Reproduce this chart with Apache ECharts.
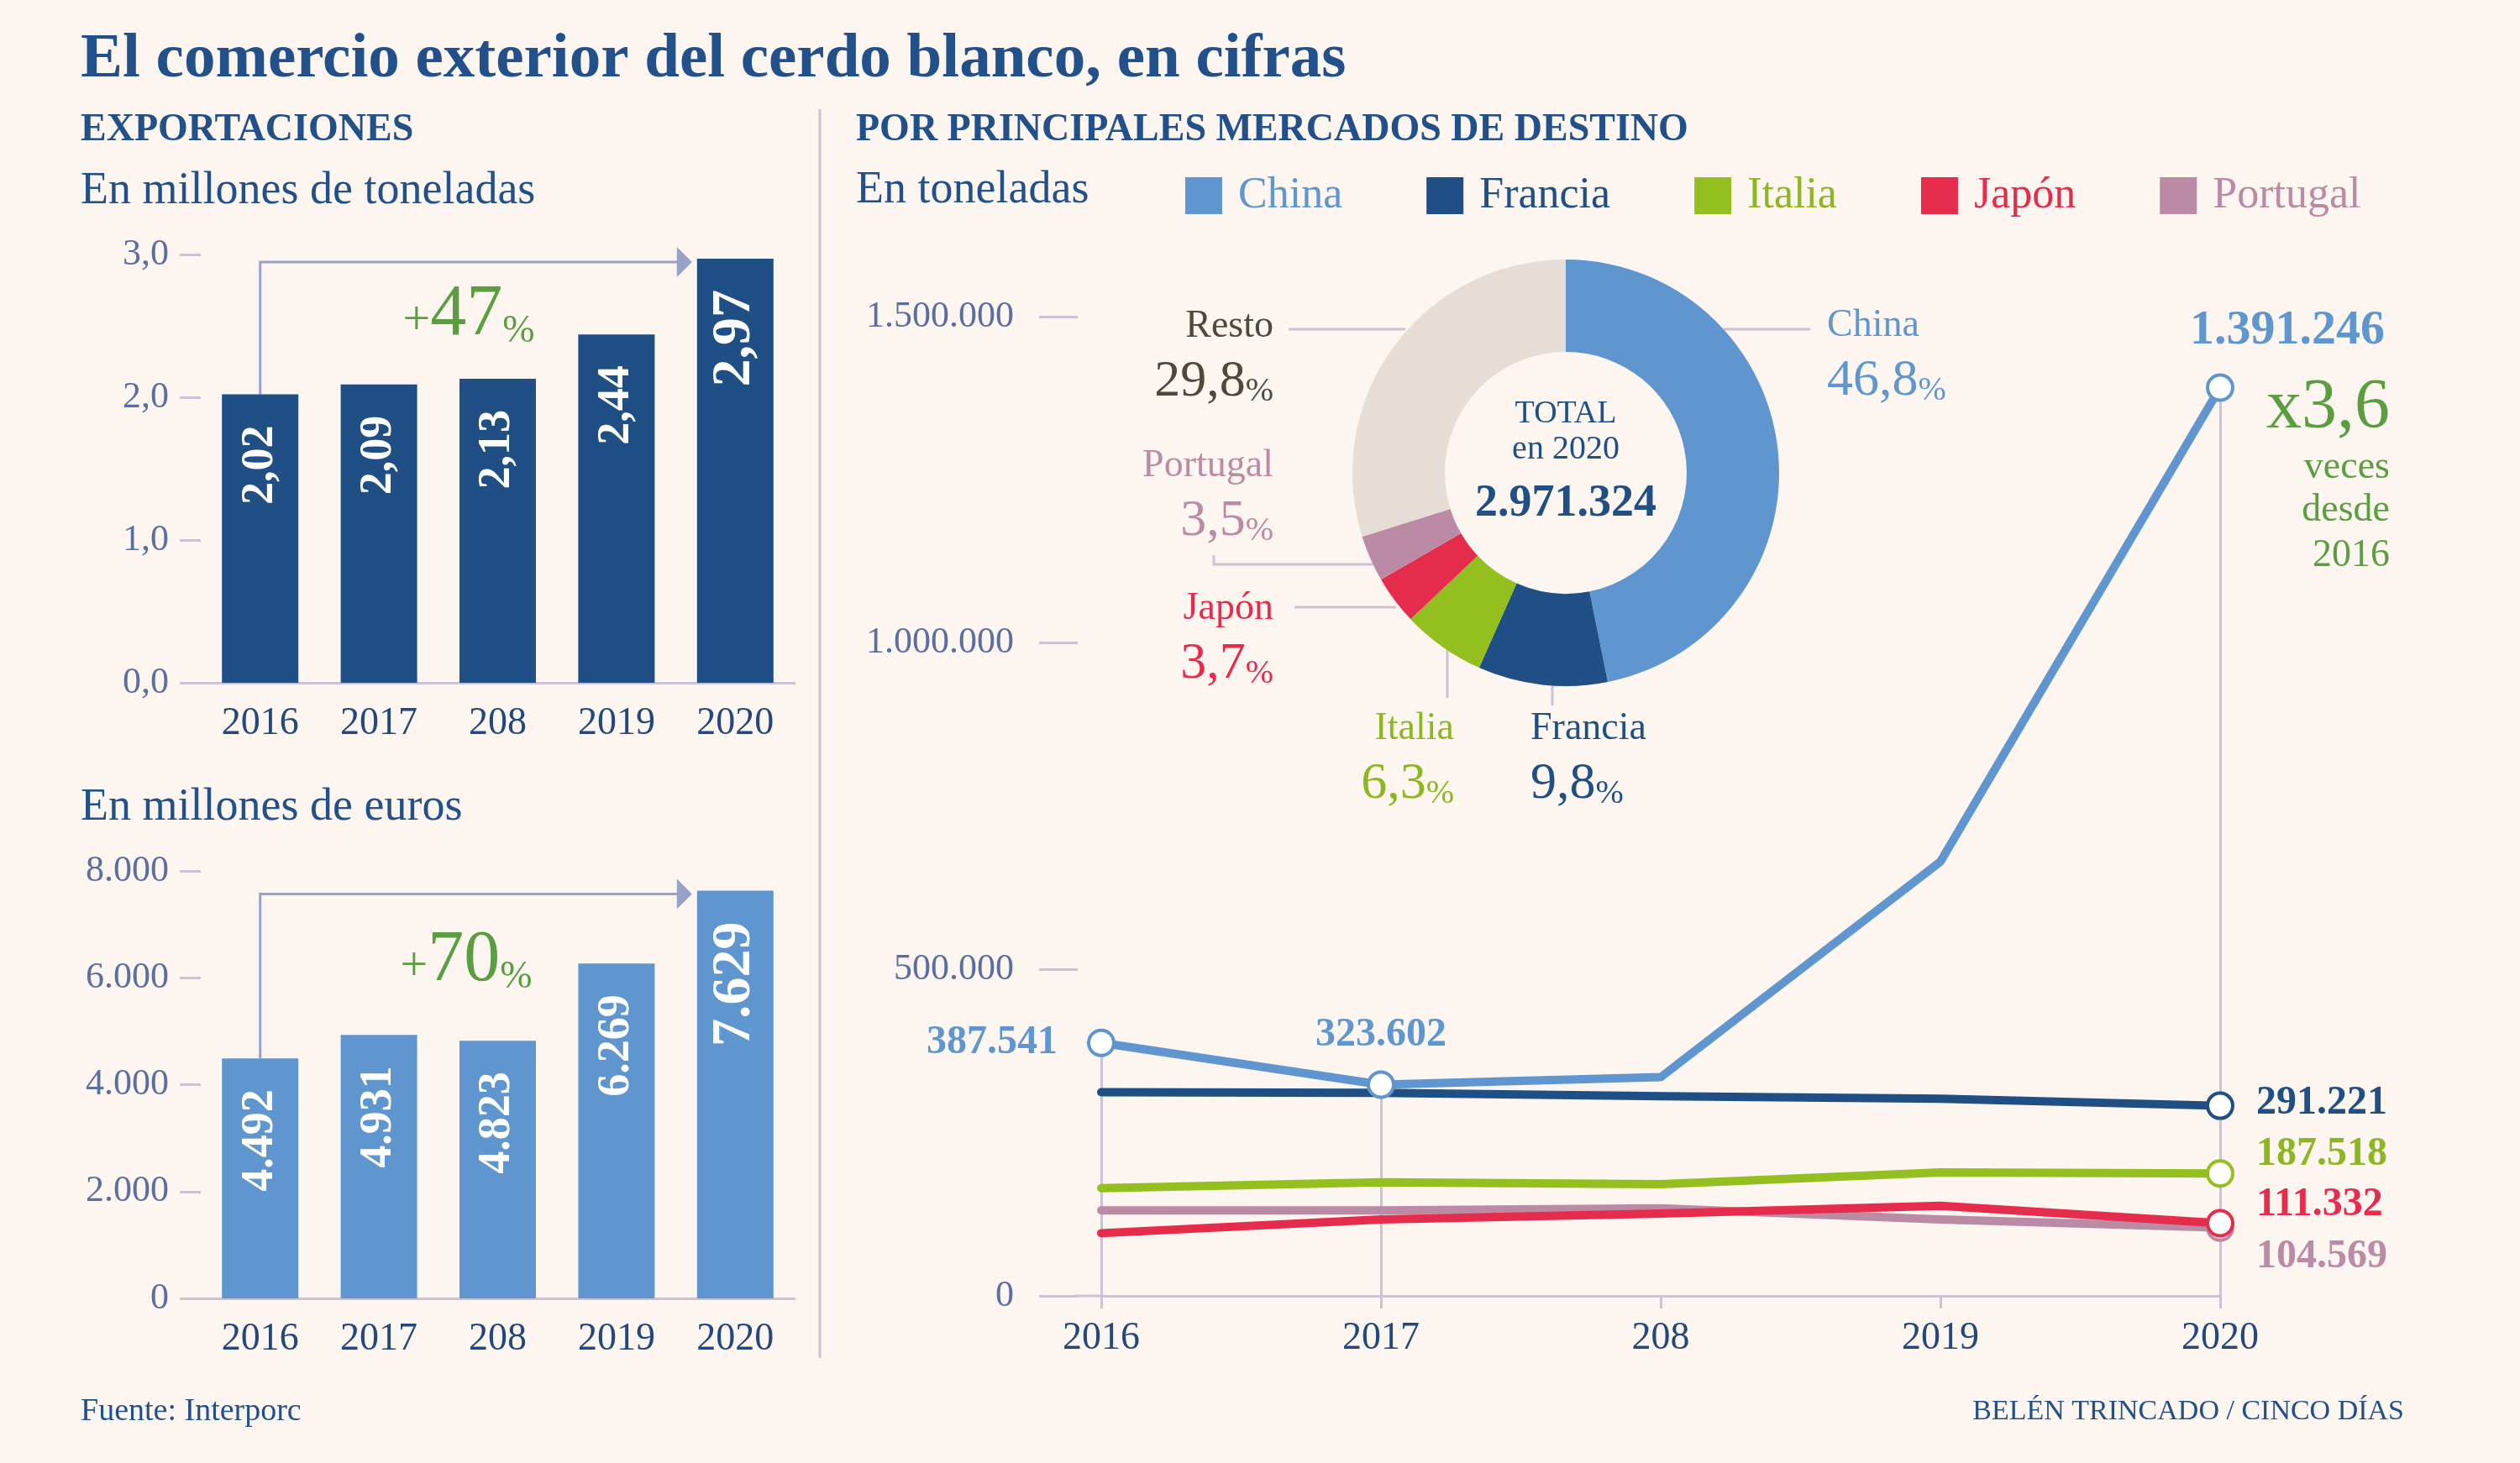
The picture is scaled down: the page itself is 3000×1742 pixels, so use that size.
<!DOCTYPE html>
<html>
<head>
<meta charset="utf-8">
<script src="https://cdn.jsdelivr.net/npm/echarts@6/dist/echarts.min.js"></script>
<style>
html, body { margin: 0; padding: 0; background: #fdf5ef; }
#main { width: 3000px; height: 1742px; }
</style>
</head>
<body>
<div id="main"></div>
<script>
// datos
const years = ['2016', '2017', '208', '2019', '2020'];
const tonnes = [2.02, 2.09, 2.13, 2.44, 2.97];          // millones de toneladas
const euros = [4492, 4931, 4823, 6269, 7629];           // millones de euros

const china = [387541, 323602, 335000, 665000, 1391246];
const francia = [312000, 311000, 306000, 302000, 291221];
const italia = [165000, 174000, 171000, 189000, 187518];
const japon = [96000, 117000, 126000, 138000, 111332];
const portugal = [131000, 131000, 134000, 117000, 104569];

const pieNames = ['China', 'Francia', 'Italia', 'Japón', 'Portugal', 'Resto'];
const pieShares = [46.8, 9.8, 6.3, 3.7, 3.5, 29.8];
const total2020 = 2971324;

const F = 'Liberation Serif';
const NAVY = '#22508a';
const TICK = '#5b6ea0';
const YEAR = '#24477c';
const AXIS = '#cbc2d3';
const GREEN = '#5a9e41';
const colors = {
    'China': '#5f96cf', 'Francia': '#1f4f85', 'Italia': '#93c01f',
    'Japón': '#e52c4c', 'Portugal': '#bb8aa5', 'Resto': '#e5ddd6'
};
const textColors = {
    'China': '#5f96cf', 'Francia': '#1f4f85', 'Italia': '#8db722',
    'Japón': '#e52c4c', 'Portugal': '#bb8aa5', 'Resto': '#4c4a3e'
};

const miles = v => String(v).replace(/\B(?=(\d{3})+(?!\d))/g, '.');
const coma = (v, d) => v.toFixed(d).replace('.', ',');

let chart = echarts.init(document.getElementById('main'));

// ejes de las barras
function barX(grid) {
    return {
        type: 'category', gridIndex: grid, data: years,
        axisLine: {lineStyle: {color: AXIS, width: 3}},
        axisTick: {alignWithLabel: true, length: 13, lineStyle: {color: AXIS, width: 3}},
        axisLabel: {fontSize: 46, color: YEAR, fontFamily: F, margin: 26}
    };
}
function barY(grid, max, interval, fmt) {
    return {
        type: 'value', gridIndex: grid, min: 0, max: max, interval: interval,
        axisLine: {show: false},
        axisTick: {show: true, length: 25, lineStyle: {color: AXIS, width: 3}},
        splitLine: {show: false},
        axisLabel: {fontSize: 44, color: TICK, fontFamily: F, margin: 38, formatter: fmt}
    };
}
function barSeries(idx, vals, color, fmt) {
    let last = vals.length - 1;
    return {
        type: 'bar', xAxisIndex: idx, yAxisIndex: idx, barWidth: 91,
        itemStyle: {color: color},
        emphasis: {disabled: true},
        label: {
            show: true, position: 'insideTop', rotate: 90, align: 'right', verticalAlign: 'middle',
            distance: 37, color: '#fff', fontWeight: 'bold', fontFamily: F, fontSize: 54,
            formatter: p => fmt(p.value)
        },
        data: vals.map((v, i) => ({value: v, label: {fontSize: i === last ? 66 : 54}}))
    };
}

// series de lineas: marks = {indice: opciones de etiqueta}
function lineSeries(name, vals, marks, extra) {
    let color = colors[name];
    let s = {
        name: name, type: 'line', xAxisIndex: 2, yAxisIndex: 2,
        symbol: 'circle', symbolSize: 30, showSymbol: true,
        lineStyle: {color: color, width: 10, cap: 'round', join: 'round'},
        itemStyle: {color: color},
        emphasis: {disabled: true},
        label: {show: false, color: textColors[name], fontSize: 48, fontWeight: 'bold', fontFamily: F,
            formatter: p => miles(p.value)},
        data: vals.map((v, i) => marks[i]
            ? {value: v, symbol: 'circle',
               itemStyle: {color: '#fff', borderColor: color, borderWidth: 4},
               label: Object.assign({show: true}, marks[i])}
            : {value: v, symbol: 'none'})
    };
    return Object.assign(s, extra || {});
}

const option = {
    backgroundColor: '#fdf5ef',
    animation: false,
    textStyle: {fontFamily: F},
    legend: {
        left: 1406, top: 202, itemWidth: 44, itemHeight: 44, itemGap: 100, icon: 'rect',
        selectedMode: false,
        itemStyle: {borderWidth: 0},
        textStyle: {fontSize: 52, fontFamily: F, padding: [0, 0, 0, 14]},
        data: ['China', 'Francia', 'Italia', 'Japón', 'Portugal'].map(n => ({
            name: n, itemStyle: {color: colors[n], borderWidth: 0}, textStyle: {color: textColors[n]}
        }))
    },
    grid: [
        {left: 239, right: 2054, top: 303, bottom: 929},
        {left: 239, right: 2054, top: 1037, bottom: 196},
        {left: 1311, right: 357, top: 377, bottom: 199}
    ],
    xAxis: [
        barX(0),
        barX(1),
        {
            type: 'category', gridIndex: 2, data: years, boundaryGap: false,
            axisLine: {lineStyle: {color: AXIS, width: 3}},
            axisTick: {length: 15, lineStyle: {color: AXIS, width: 3}},
            axisLabel: {fontSize: 46, color: YEAR, fontFamily: F, margin: 28}
        }
    ],
    yAxis: [
        barY(0, 3, 1, v => coma(v, 1)),
        barY(1, 8000, 2000, v => miles(v)),
        {
            type: 'value', gridIndex: 2, min: 0, max: 1500000, interval: 500000, offset: 28,
            axisLine: {show: false},
            axisTick: {show: true, length: 46, lineStyle: {color: AXIS, width: 3}},
            splitLine: {show: false},
            axisLabel: {fontSize: 44, color: TICK, fontFamily: F, margin: 76, formatter: v => miles(v)}
        }
    ],
    series: [
        barSeries(0, tonnes, '#1f4f85', v => coma(v, 2)),
        barSeries(1, euros, '#5f96cf', v => miles(v)),
        {
            type: 'pie', center: [1864, 563], radius: [144, 254], startAngle: 90,
            silent: true, label: {show: false}, labelLine: {show: false},
            itemStyle: {borderWidth: 0},
            data: pieNames.map((n, i) => ({name: n, value: pieShares[i], itemStyle: {color: colors[n]}}))
        },
        lineSeries('Portugal', portugal, {4: {position: 'right', distance: 26, offset: [0, 35]}}),
        lineSeries('Japón', japon, {4: {position: 'right', distance: 26, offset: [0, -22]}}),
        lineSeries('Italia', italia, {4: {position: 'right', distance: 26, offset: [0, -23]}}),
        lineSeries('Francia', francia, {4: {position: 'right', distance: 26, offset: [0, -3]}}),
        lineSeries('China', china, {
            0: {position: 'left', distance: 35},
            1: {position: 'top', distance: 18},
            4: {position: 'top', distance: 22, offset: [80, 0], fontSize: 58}
        }, {
            markLine: {
                silent: true, symbol: ['none', 'none'], z: 1,
                label: {show: false},
                lineStyle: {color: AXIS, width: 3, type: 'solid'},
                data: [0, 1, 4].map(i => [{coord: [years[i], 0]}, {coord: [years[i], china[i]]}])
            }
        })
    ]
};
chart.setOption(option);

// anotaciones
const g = [];
function txt(x, y, text, size, color, opts) {
    g.push({
        type: 'text', x: x, y: y,
        style: Object.assign({
            text: text, fontSize: size, fontFamily: F, fill: color,
            align: 'left', verticalAlign: 'middle'
        }, opts || {})
    });
}
function line(points) {
    g.push({type: 'polyline', shape: {points: points}, style: {stroke: AXIS, lineWidth: 3, fill: null}});
}

txt(96, 72, 'El comercio exterior del cerdo blanco, en cifras', 75, NAVY, {fontWeight: 'bold'});
txt(96, 155, 'EXPORTACIONES', 46, NAVY, {fontWeight: 'bold'});
txt(96, 228, 'En millones de toneladas', 54, NAVY);
txt(96, 962, 'En millones de euros', 54, NAVY);
txt(1019, 155, 'POR PRINCIPALES MERCADOS DE DESTINO', 46, NAVY, {fontWeight: 'bold'});
txt(1019, 227, 'En toneladas', 54, NAVY);
txt(96, 1681, 'Fuente: Interporc', 38, NAVY);
txt(2862, 1681, 'BELÉN TRINCADO / CINCO DÍAS', 34, NAVY, {align: 'right'});
g.push({type: 'line', shape: {x1: 976, y1: 130, x2: 976, y2: 1617}, style: {stroke: AXIS, lineWidth: 3}});

// flechas de crecimiento
function arrow(seriesIndex, vals, tx, ty) {
    let n = vals.length - 1;
    let a = chart.convertToPixel({seriesIndex: seriesIndex}, [years[0], vals[0]]);
    let b = chart.convertToPixel({seriesIndex: seriesIndex}, [years[n], vals[n]]);
    let ay = b[1] + 4;
    let tip = b[0] - 45.5 - 6;
    g.push({type: 'polyline', shape: {points: [[a[0], a[1]], [a[0], ay], [tip - 17, ay]]},
        style: {stroke: '#98a2c8', lineWidth: 3, fill: null}});
    g.push({type: 'polygon', shape: {points: [[tip - 18, ay - 18], [tip, ay], [tip - 18, ay + 18]]},
        style: {fill: '#98a2c8'}});
    let pct = Math.round((vals[n] / vals[0] - 1) * 100);
    txt(tx, ty, '{a|+}{b|' + pct + '}{c|%}', 84, GREEN, {
        align: 'center',
        rich: {
            a: {fontSize: 58, fontFamily: F, fill: GREEN, verticalAlign: 'bottom', padding: [0, 0, 6, 0]},
            b: {fontSize: 86, fontFamily: F, fill: GREEN, verticalAlign: 'bottom'},
            c: {fontSize: 46, fontFamily: F, fill: GREEN, verticalAlign: 'bottom'}
        }
    });
}
arrow(0, tonnes, 558, 375);
arrow(1, euros, 555, 1144);

// eje x del grafico de lineas hasta la marca del 0
let z0 = chart.convertToPixel({seriesIndex: 7}, [years[0], 0]);
g.push({type: 'line', shape: {x1: z0[0] - 30, y1: z0[1], x2: z0[0], y2: z0[1]}, style: {stroke: AXIS, lineWidth: 3}});

// multiplicador de China
let veces = coma(china[china.length - 1] / china[0], 1);
txt(2845, 487, 'x' + veces, 84, GREEN, {align: 'right'});
txt(2845, 557, 'veces', 46, GREEN, {align: 'right'});
txt(2845, 608, 'desde', 46, GREEN, {align: 'right'});
txt(2845, 662, years[0], 46, GREEN, {align: 'right'});

// etiquetas del donut
const pieLabelPos = {
    'China': {x: 2175, y: 388, align: 'left', line: [[2052, 392], [2155, 392]]},
    'Francia': {x: 1822, y: 868, align: 'left', line: [[1848, 817], [1848, 840]]},
    'Italia': {x: 1731, y: 868, align: 'right', line: [[1723, 774], [1723, 831]]},
    'Japón': {x: 1516, y: 725, align: 'right', line: [[1541, 723], [1662, 723]]},
    'Portugal': {x: 1516, y: 555, align: 'right', line: [[1445, 661], [1445, 672], [1635, 672]]},
    'Resto': {x: 1516, y: 389, align: 'right', line: [[1534, 392], [1673, 392]]}
};
pieNames.forEach((n, i) => {
    let p = pieLabelPos[n];
    let c = textColors[n];
    line(p.line);
    txt(p.x, p.y, n, 46, c, {align: p.align});
    txt(p.x, p.y + 66, '{a|' + coma(pieShares[i], 1) + '}{b|%}', 60, c, {
        align: p.align,
        rich: {
            a: {fontSize: 62, fontFamily: F, fill: c, verticalAlign: 'bottom'},
            b: {fontSize: 40, fontFamily: F, fill: c, verticalAlign: 'bottom'}
        }
    });
});
txt(1864, 493, 'TOTAL', 38, '#1f4f85', {align: 'center'});
txt(1864, 535, 'en 2020', 40, '#1f4f85', {align: 'center'});
txt(1864, 600, miles(total2020), 54, '#1f4f85', {align: 'center', fontWeight: 'bold'});

chart.setOption({graphic: g});
</script>
</body>
</html>
